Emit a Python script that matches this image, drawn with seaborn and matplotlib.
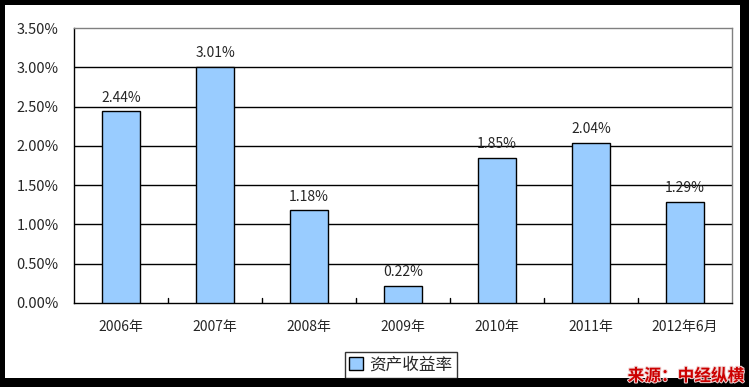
import matplotlib
matplotlib.use("Agg")
import matplotlib.pyplot as plt
import seaborn as sns
import pandas as pd
from matplotlib.patches import Rectangle
import matplotlib.patheffects as pe

categories = ["2006年", "2007年", "2008年", "2009年", "2010年", "2011年", "2012年6月"]
values = [2.44, 3.01, 1.18, 0.22, 1.85, 2.04, 1.29]
series_name = "资产收益率"
y_ticks = [0.0, 0.5, 1.0, 1.5, 2.0, 2.5, 3.0, 3.5]

sns.set_style("white")
plt.rcParams['font.family'] = ['Noto Sans CJK SC', 'DejaVu Sans']

W, H = 749, 387
fig = plt.figure(figsize=(W / 100, H / 100), dpi=100)
fig.patch.set_facecolor("black")
fig.patches.append(Rectangle((5 / W, 1 - 378 / H), (740 - 5) / W, (378 - 5) / H,
                             transform=fig.transFigure, facecolor="white",
                             edgecolor="none", zorder=-10))

ax = fig.add_axes([74 / W, 1 - 303 / H, (732 - 74) / W, (303 - 28) / H])
ax.set_facecolor("white")
df = pd.DataFrame({"cat": categories, "val": values, "series": series_name})
sns.barplot(data=df, x="cat", y="val", hue="series", palette=["#99CCFF"],
            saturation=1, width=0.4, edgecolor="black", linewidth=1.0, ax=ax, zorder=3)

ax.set_ylim(0, 3.5)
ax.set_xlim(-0.5, len(categories) - 0.5)
ax.set_yticks(y_ticks)
ax.set_yticklabels([f"{t:.2f}%" for t in y_ticks], fontsize=10.5)
ax.set_xlabel("")
ax.set_ylabel("")
ax.tick_params(axis="x", length=0, labelsize=10, pad=12)
ax.tick_params(axis="y", direction="in", length=5, width=1, pad=11, color="black")
for t in y_ticks[1:-1]:
    ax.axhline(t, color="black", linewidth=1, zorder=1)
for i in range(1, len(categories)):
    ax.plot([i - 0.5, i - 0.5], [0, 0.07], color="black", linewidth=1, zorder=2)

ax.spines["left"].set_color("black")
ax.spines["bottom"].set_color("black")
ax.spines["top"].set_color("#808080")
ax.spines["right"].set_color("#808080")
for s in ax.spines.values():
    s.set_linewidth(1)

for i, v in enumerate(values):
    ax.text(i, v + 0.08, f"{v:.2f}%", ha="center", va="bottom", fontsize=10)

leg = ax.legend(loc="center", bbox_to_anchor=(401 / W, 1 - 365 / H),
                bbox_transform=fig.transFigure, frameon=True, fancybox=False,
                edgecolor="black", fontsize=12, handlelength=0.8, handleheight=0.8,
                borderpad=0.25, handletextpad=0.4)
leg.get_frame().set_linewidth(1)

fig.text(744 / W, 1 - 376 / H, "来源：中经纵横", ha="right", va="center",
         fontsize=12, fontweight="bold", style="italic", color="#CC0000",
         path_effects=[pe.withStroke(linewidth=1.5, foreground="#F0D0D0")])

fig.savefig("out.png", dpi=100, facecolor=fig.get_facecolor())
